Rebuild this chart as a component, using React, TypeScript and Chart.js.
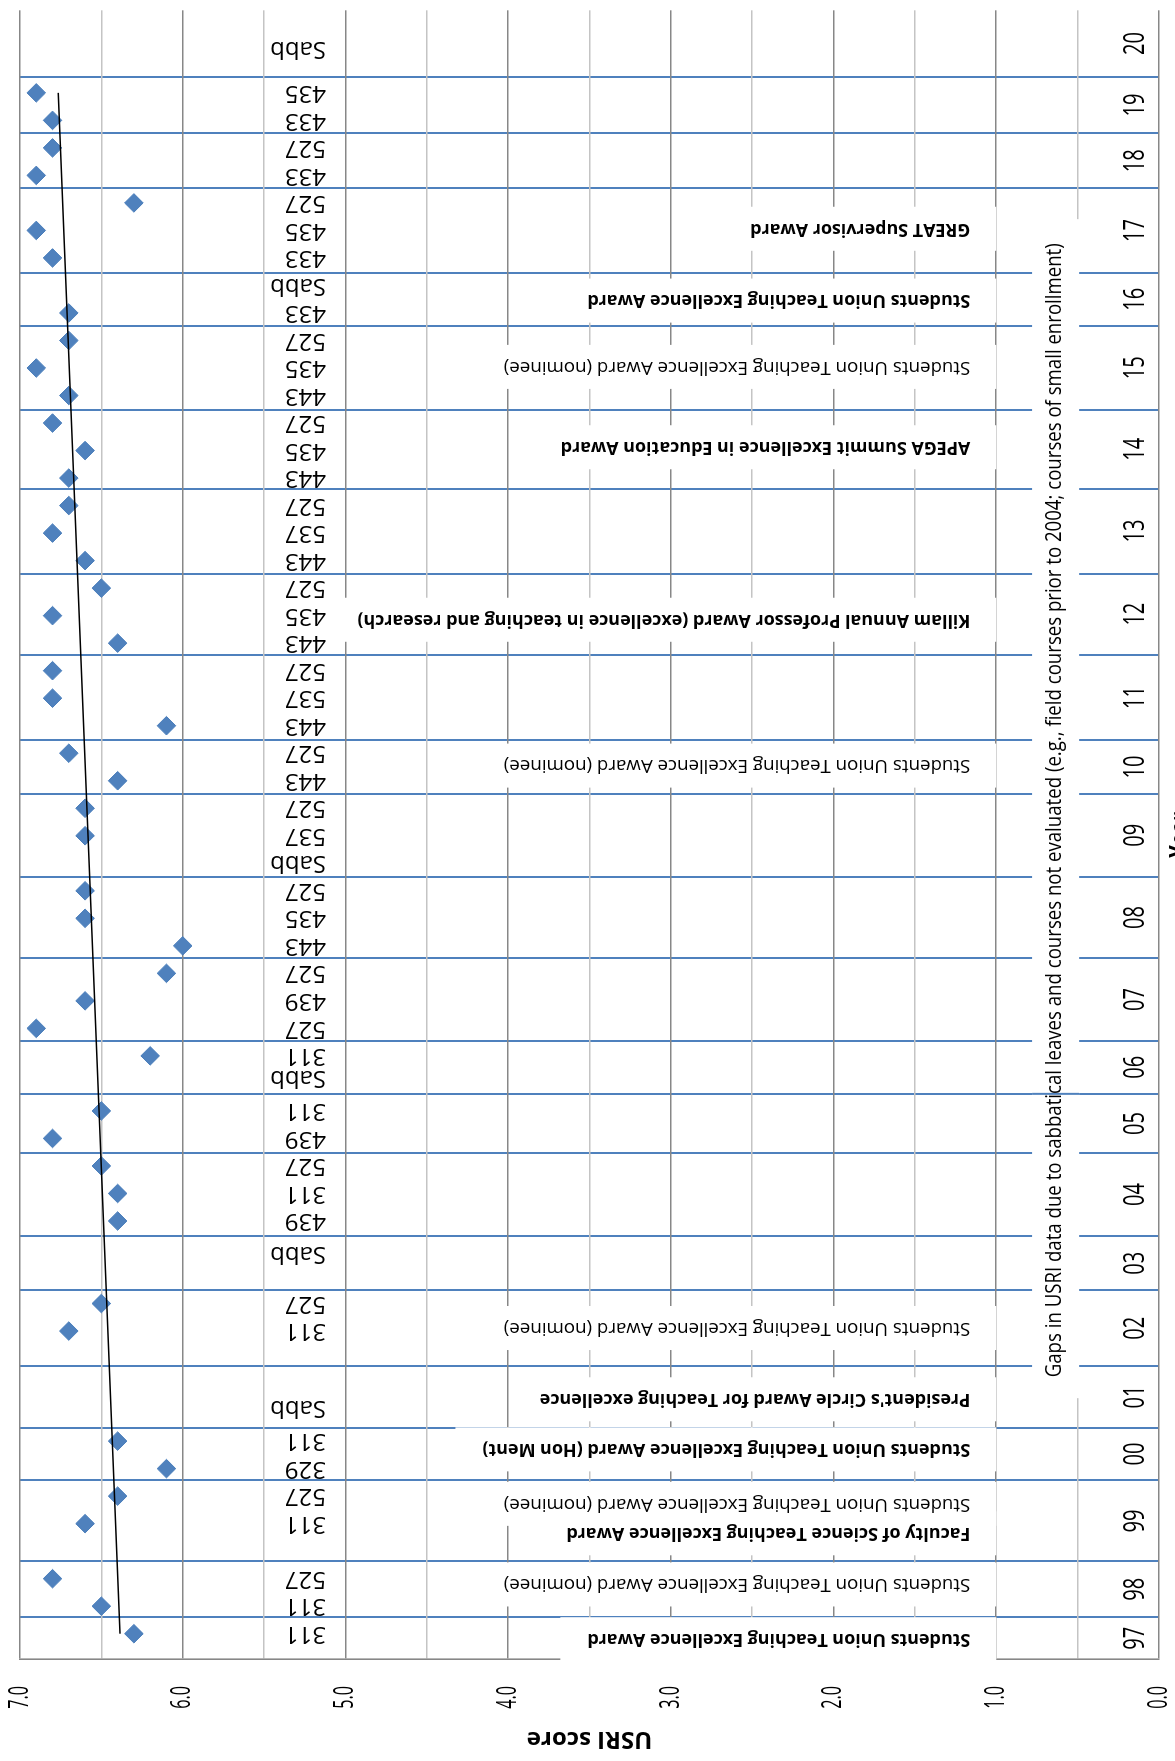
import React, { useEffect, useRef } from 'react';
import { Chart, registerables } from 'chart.js';

Chart.register(...registerables);

// ---- data (x = running course slot, 97 at left ... 20 at right, in the unrotated chart) ----
const yearLabels = ['97', '98', '99', '00', '01', '02', '03', '04', '05', '06', '07', '08', '09', '10', '11', '12', '13', '14', '15', '16', '17', '18', '19', '20'];
const yearBoundaries = [0.6, 2.63, 5.57, 7.49, 9.72, 12.48, 14.45, 17.47, 19.62, 21.55, 24.55, 27.51, 30.52, 32.47, 35.58, 38.53, 41.62, 44.48, 47.53, 49.47, 52.53, 54.53, 56.58];

const courseX = [0, 1, 2, 4, 5, 6, 7, 11, 12, 15, 16, 17, 18, 19, 21, 22, 23, 24, 25, 26, 27, 29, 30, 31, 32, 33, 34, 35, 36, 37, 38, 39, 40, 41, 42, 43, 44, 45, 46, 47, 48, 50, 51, 52, 53, 54, 55, 56];
const courseCodes = ['311', '311', '527', '311', '527', '329', '311', '311', '527', '439', '311', '527', '439', '311', '311', '527', '439', '527', '443', '435', '527', '537', '527', '443', '527', '443', '537', '527', '443', '435', '527', '443', '537', '527', '443', '435', '527', '443', '435', '527', '433', '433', '435', '527', '433', '527', '433', '435'];
const usriScores = [6.3, 6.5, 6.8, 6.6, 6.4, 6.1, 6.4, 6.7, 6.5, 6.4, 6.4, 6.5, 6.8, 6.5, 6.2, 6.9, 6.6, 6.1, 6.0, 6.6, 6.6, 6.6, 6.6, 6.4, 6.7, 6.1, 6.8, 6.8, 6.4, 6.8, 6.5, 6.6, 6.8, 6.7, 6.7, 6.6, 6.8, 6.7, 6.9, 6.7, 6.7, 6.8, 6.9, 6.3, 6.9, 6.8, 6.8, 6.9];

const sabbX = [8.2, 13.8, 20.2, 28, 49, 57.6];
const sabbLabel = 'Sabb';

const trendX = [0, 56];
const trendY = [6.385, 6.765];

const awardX = [-0.2, 1.79, 3.65, 4.72, 6.7, 8.52, 11.11, 31.55, 36.85, 43.12, 46.04, 48.45, 51.06];
const awardText = [
  'Students Union Teaching Excellence Award',
  'Students Union Teaching Excellence Award (nominee)',
  'Faculty of Science Teaching Excellence Award',
  'Students Union Teaching Excellence Award (nominee)',
  'Students Union Teaching Excellence Award (Hon Ment)',
  "President's Circle Award for Teaching excellence",
  'Students Union Teaching Excellence Award (nominee)',
  'Students Union Teaching Excellence Award (nominee)',
  'Killam Annual Professor Award (excellence in teaching and research)',
  'APEGA Summit Excellence in Education Award',
  'Students Union Teaching Excellence Award (nominee)',
  'Students Union Teaching Excellence Award',
  'GREAT Supervisor Award',
];
const awardBold = [true, false, true, false, true, true, false, false, true, true, false, true, true];

const scoreTickValues = [0, 1, 2, 3, 4, 5, 6, 7];
const scoreTickLabels = ['0.0', '1.0', '2.0', '3.0', '4.0', '5.0', '6.0', '7.0'];

const gapsNote = 'Gaps in USRI data due to sabbatical leaves and courses not evaluated (e.g., field courses prior to 2004; courses of small enrollment)';
const yTitle = 'USRI score';
const xTitle = 'Year';

const FONT = '"Open Sans", "DejaVu Sans", sans-serif';

const overlayPlugin = {
  id: 'overlay',
  afterDraw(chart: any) {
    const ctx = chart.ctx as CanvasRenderingContext2D;
    const area = chart.chartArea;
    const xs = chart.scales.x;
    const ys = chart.scales.y;
    const px = (v: number) => xs.getPixelForValue(v);
    const py = (v: number) => ys.getPixelForValue(v);
    const slot = px(1) - px(0);

    ctx.save();
    const regFont = `18.7px ${FONT}`;
    const boldFont = `bold 17.9px ${FONT}`;
    const awardStart = py(1.16);
    const boxBottom = py(1.0);

    // white boxes behind award notes
    const widths = awardText.map((t, i) => {
      ctx.font = awardBold[i] ? boldFont : regFont;
      return ctx.measureText(t).width;
    });
    ctx.fillStyle = '#ffffff';
    awardX.forEach((x, i) => {
      const cx = px(x);
      const half = 0.8 * slot;
      const top = awardStart - widths[i] - 27;
      ctx.fillRect(cx - half, top, 2 * half, boxBottom - top);
    });
    // gaps note box
    const gx0 = px(8.56);
    const gx1 = px(51.41);
    const gy0 = py(0.78);
    const gy1 = py(0.5) + 1.5;
    ctx.fillRect(gx0, gy0, gx1 - gx0, gy1 - gy0);
    // the 05/06 divider runs across the note box in the original
    ctx.strokeStyle = '#4F81BD';
    ctx.lineWidth = 2;
    ctx.beginPath();
    ctx.moveTo(px(yearBoundaries[8]), gy0);
    ctx.lineTo(px(yearBoundaries[8]), gy1);
    ctx.stroke();

    ctx.fillStyle = '#000000';
    ctx.textBaseline = 'middle';
    ctx.textAlign = 'left';

    const vert = (text: string, x: number, y: number) => {
      ctx.save();
      ctx.translate(x, y);
      ctx.rotate(-Math.PI / 2);
      ctx.fillText(text, 0, 0);
      ctx.restore();
    };

    // award notes
    awardX.forEach((x, i) => {
      ctx.font = awardBold[i] ? boldFont : regFont;
      vert(awardText[i], px(x), awardStart);
    });

    // course codes & sabbaticals
    ctx.font = `24px ${FONT}`;
    const codeStart = py(5.12);
    courseX.forEach((x, i) => vert(courseCodes[i], px(x), codeStart));
    sabbX.forEach((x) => vert(sabbLabel, px(x), codeStart));

    // condensed horizontal texts
    const condensed = (text: string, x: number, y: number, sx: number, align: CanvasTextAlign) => {
      ctx.save();
      ctx.translate(x, y);
      ctx.scale(sx, 1);
      ctx.textAlign = align;
      ctx.fillText(text, 0, 0);
      ctx.restore();
    };

    // year labels, centred in their bands
    ctx.font = `30px ${FONT}`;
    const edges = [xs.min, ...yearBoundaries, xs.max];
    yearLabels.forEach((lab, i) => {
      const c = (edges[i] + edges[i + 1]) / 2;
      condensed(lab, px(c), py(0.147), 0.67, 'center');
    });

    // score tick labels
    ctx.font = `27px ${FONT}`;
    scoreTickValues.forEach((v, i) => {
      condensed(scoreTickLabels[i], area.left - 38, py(v), 0.6, 'center');
    });

    // gaps note
    ctx.font = `22px ${FONT}`;
    const gw = ctx.measureText(gapsNote).width;
    condensed(gapsNote, px(9.32), py(0.64), 1134 / gw, 'left');

    // axis titles
    ctx.font = `bold 24px ${FONT}`;
    ctx.save();
    ctx.translate(area.left - 80, (area.top + area.bottom) / 2);
    ctx.rotate(-Math.PI / 2);
    ctx.textAlign = 'center';
    ctx.fillText(yTitle, 0, 0);
    ctx.restore();

    ctx.font = `bold 30px ${FONT}`;
    ctx.textBaseline = 'top';
    condensed(xTitle, (area.left + area.right) / 2, area.bottom + 8, 0.67, 'center');

    ctx.restore();
  },
};

export default function App() {
  const canvasRef = useRef<HTMLCanvasElement | null>(null);

  useEffect(() => {
    if (!canvasRef.current) return;
    const chart = new Chart(canvasRef.current, {
      type: 'scatter',
      data: {
        datasets: [
          {
            type: 'line',
            label: 'Trend',
            data: trendX.map((x, i) => ({ x, y: trendY[i] })),
            borderColor: '#000000',
            borderWidth: 1.6,
            pointRadius: 0,
            fill: false,
            tension: 0,
          } as any,
          {
            type: 'scatter',
            label: 'USRI',
            data: courseX.map((x, i) => ({ x, y: usriScores[i] })),
            pointStyle: 'rectRot',
            pointRadius: 9.3,
            backgroundColor: '#4F81BD',
            borderColor: '#4A7EBB',
            borderWidth: 1,
          } as any,
        ],
      },
      options: {
        animation: false,
        responsive: false,
        maintainAspectRatio: false,
        layout: { padding: { left: 0, top: 20, right: 2, bottom: 16 } },
        plugins: { legend: { display: false }, tooltip: { enabled: false } },
        scales: {
          x: {
            type: 'linear',
            min: -0.93,
            max: 59,
            position: 'bottom',
            afterBuildTicks: (s: any) => {
              s.ticks = yearBoundaries.map((v) => ({ value: v }));
            },
            afterFit: (s: any) => {
              s.height = 0;
            },
            ticks: { display: false },
            grid: { color: '#4F81BD', lineWidth: 2, drawTicks: false },
            border: { display: false },
          },
          y: {
            type: 'linear',
            min: 0,
            max: 7,
            ticks: { display: false, stepSize: 0.5 },
            afterFit: (s: any) => {
              s.width = 101.7;
            },
            grid: {
              color: (c: any) => (Number.isInteger(c.tick?.value) ? '#878787' : '#C4C4C4'),
              lineWidth: 1.6,
              drawTicks: false,
            },
            border: { display: true, color: '#878787', width: 1.6 },
          },
        },
      } as any,
      plugins: [overlayPlugin],
    });
    return () => chart.destroy();
  }, []);

  return (
    <div style={{ position: 'fixed', left: 0, top: 0, width: 1175, height: 1761, overflow: 'hidden', background: '#ffffff' }}>
      <div
        style={{
          position: 'absolute',
          left: 0,
          top: 0,
          width: 1761,
          height: 1175,
          transformOrigin: '0 0',
          transform: 'translate(0px, 1761px) rotate(-90deg)',
        }}
      >
        <canvas ref={canvasRef} width={1761} height={1175} style={{ display: 'block' }} />
      </div>
    </div>
  );
}
